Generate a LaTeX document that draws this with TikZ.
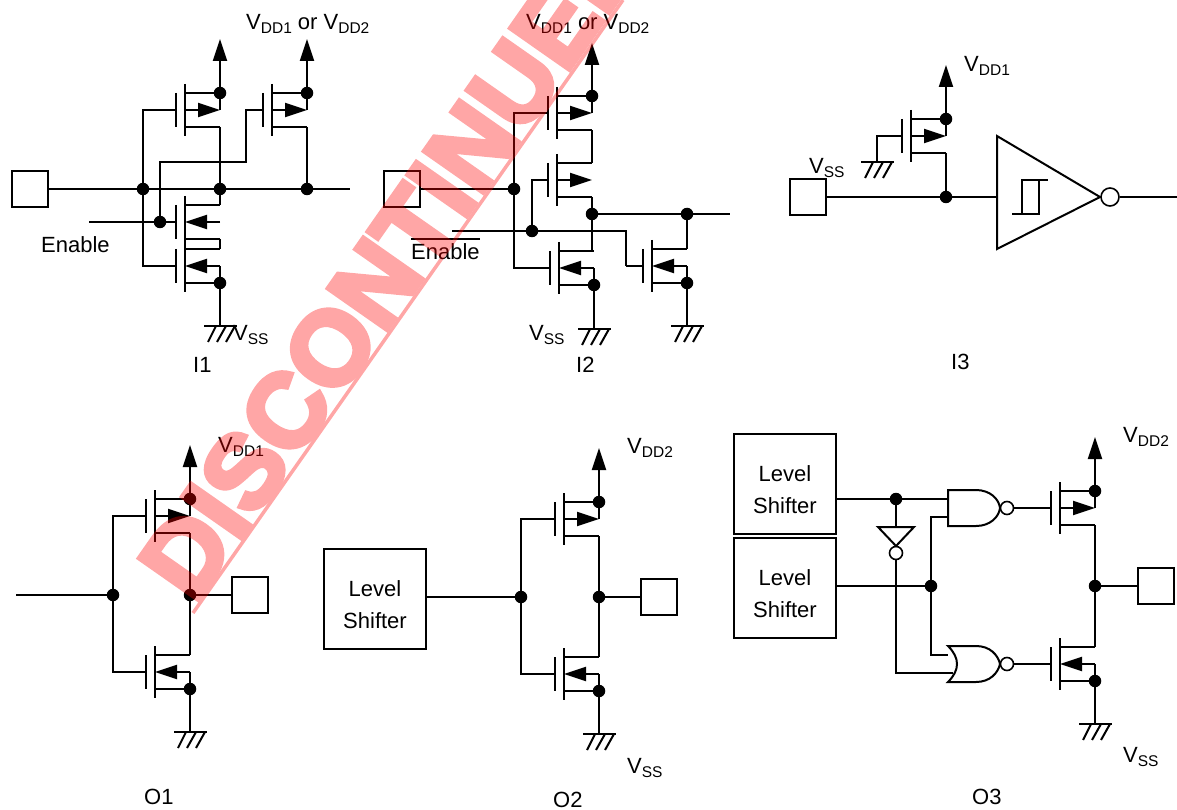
\documentclass[tikz,border=0pt]{standalone}
\usepackage{fontspec}
\setmainfont{Liberation Sans}
\newfontfamily\stampfont[BoldFeatures={FakeBold=5}]{Liberation Sans}
\usetikzlibrary{arrows.meta}

\newcommand{\vsub}[1]{V\raisebox{-4pt}{\fontsize{15.5}{15.5}\selectfont #1}}

\tikzset{
  wire/.style={line width=2pt},
  power/.style={-{Triangle[length=22pt,width=14pt]}},
  fettip/.style={-{Triangle[length=22pt,width=14pt]}},
  dot/.style={circle,fill=black,inner sep=0pt,minimum size=12.5pt},
  bubble/.style={circle,draw,line width=1.6pt,fill=white,inner sep=0pt,minimum size=13pt},
  pad/.style={draw,line width=2pt,inner sep=0pt,minimum size=36pt},
  shifter/.style={draw,line width=2pt,inner sep=0pt,minimum width=102pt,minimum height=100pt,
    align=center,text height=59pt,font=\fontsize{22}{32}\selectfont},
  lbl/.style={inner sep=0pt,anchor=base west,font=\fontsize{22}{26}\selectfont},
  fetbody/.pic={
    \draw[wire] (-9,-17) -- (-9,17);
    \draw[wire] (0,-26) -- (0,26);
    \draw[wire] (0,-17) -- (35,-17);
    \draw[wire] (0,17) -- (35,17);
  },
  pfet/.pic={
    \pic {fetbody};
    \draw[wire,fettip] (0,0) -- (35,0);
    \coordinate (-g) at (-9,0);
    \coordinate (-t) at (35,-17);
    \coordinate (-m) at (35,0);
    \coordinate (-b) at (35,17);
  },
  nfet/.pic={
    \pic {fetbody};
    \draw[wire,fettip] (35,0) -- (0,0);
    \coordinate (-g) at (-9,0);
    \coordinate (-t) at (35,-17);
    \coordinate (-m) at (35,0);
    \coordinate (-b) at (35,17);
  },
  gnd/.pic={
    \draw[wire] (-16,0) -- (17,0);
    \draw[wire] (-4,0) -- (-12,16);
    \draw[wire] (6,0) -- (-3,16);
    \draw[wire] (15,0) -- (6,16);
    \coordinate (-t) at (0,0);
  },
  nandgate/.pic={
    \draw[wire,fill=white] (0,-18) -- (28,-18) .. controls (42,-18) and (51,-9) .. (52,0)
      .. controls (51,9) and (42,18) .. (28,18) -- (0,18) -- cycle;
    \coordinate (-a) at (0,-9);
    \coordinate (-b) at (0,9);
  },
  orgate/.pic={
    \draw[wire,fill=white] (0,-18) -- (28,-18) .. controls (42,-18) and (50,-9) .. (52,0)
      .. controls (50,9) and (42,18) .. (28,18) -- (0,18) .. controls (12,6) and (12,-6) .. (0,-18) -- cycle;
    \coordinate (-a) at (0,-9);
    \coordinate (-b) at (5,9);
  }
}

\begin{document}
\begin{tikzpicture}[x=1pt,y=-1pt]
  \useasboundingbox (0,0) rectangle (1177,810);

  \pic (ma) at (185,110) {pfet};
  \pic (mb) at (272,110) {pfet};
  \pic (mc) at (185,222) {nfet};
  \pic (md) at (185,266) {nfet};
  \pic (ga) at (220,326) {gnd};
  \node[pad] (pa) at (30,189) {};
  \node[dot] (da) at (143,189) {};
  \node[dot] (db) at (220,189) {};
  \node[dot] (dc) at (307,189) {};
  \node[dot] (dd) at (160,222) {};
  \node[dot] (de) at (ma-t) {};
  \node[dot] (df) at (mb-t) {};
  \node[dot] (dg) at (md-b) {};
  \coordinate (oa) at (350,189);
  \coordinate (ea) at (89,222);
  \coordinate (ka) at (246,162);
  \coordinate (va) at (220,39);
  \coordinate (vb) at (307,39);
  \path (pa) edge[wire] (da);
  \path (da) edge[wire] (db);
  \path (db) edge[wire] (dc);
  \path (dc) edge[wire] (oa);
  \path (ea) edge[wire] (dd);
  \path (dd) edge[wire] (mc-g);
  \path (de) edge[wire,power] (va);
  \path (df) edge[wire,power] (vb);
  \path (de) edge[wire] (ma-m);
  \path (df) edge[wire] (mb-m);
  \path (ma-b) edge[wire] (db);
  \path (mb-b) edge[wire] (dc);
  \path (mc-t) edge[wire] (db);
  \path (mc-b) edge[wire] (md-t);
  \path (md-m) edge[wire] (dg);
  \path (dg) edge[wire] (ga-t);
  \draw[wire] (ma-g) -| (da);
  \draw[wire] (md-g) -| (da);
  \draw[wire] (dd) |- (ka) |- (mb-g);

  \pic (me) at (557,113) {pfet};
  \pic (mf) at (557,180) {pfet};
  \pic (mg) at (559,268) {nfet};
  \pic (mh) at (652,266) {nfet};
  \pic (gb) at (594,329) {gnd};
  \pic (gc) at (687,326) {gnd};
  \node[pad] (pb) at (402,189) {};
  \node[dot] (dh) at (514,189) {};
  \node[dot] (di) at (me-t) {};
  \node[dot] (dj) at (532,231) {};
  \node[dot] (dk) at (592,214) {};
  \node[dot] (dl) at (687,214) {};
  \node[dot] (dm) at (mg-b) {};
  \node[dot] (dn) at (mh-b) {};
  \coordinate (ob) at (730,214);
  \coordinate (eb) at (452,231);
  \coordinate (kb) at (626,266);
  \coordinate (vc) at (592,43);
  \path (pb) edge[wire] (dh);
  \path (di) edge[wire,power] (vc);
  \path (di) edge[wire] (me-m);
  \path (me-b) edge[wire] (mf-t);
  \path (mf-b) edge[wire] (dk);
  \path (dk) edge[wire] (dl);
  \path (dl) edge[wire] (ob);
  \path (dl) edge[wire] (mh-t);
  \path (eb) edge[wire] (dj);
  \path (kb) edge[wire] (mh-g);
  \path (mg-m) edge[wire] (dm);
  \path (mh-m) edge[wire] (dn);
  \path (dm) edge[wire] (gb-t);
  \path (dn) edge[wire] (gc-t);
  \draw[wire] (me-g) -| (dh);
  \draw[wire] (mg-g) -| (dh);
  \draw[wire] (mf-g) -| (dj);
  \draw[wire] (dj) -| (kb);
  \draw[wire] (dk) |- (mg-t);

  \pic (mi) at (911,136) {pfet};
  \pic (gd) at (877,162) {gnd};
  \node[pad] (pc) at (808,197) {};
  \node[dot] (do) at (946,197) {};
  \node[dot] (dp) at (mi-t) {};
  \node[bubble,minimum size=18pt] (ba) at (1110,197) {};
  \coordinate (ta) at (997,197);
  \coordinate (oc) at (1177,197);
  \coordinate (vd) at (946,65);
  \draw[wire] (997,136) -- (997,249) -- (1100,197) -- cycle;
  \draw[wire] (1012,214) -- (1039,214) -- (1039,180);
  \draw[wire] (1022,214) -- (1022,180) -- (1048,180);
  \path (pc) edge[wire] (do);
  \path (do) edge[wire] (ta);
  \path (ba) edge[wire] (oc);
  \path (dp) edge[wire,power] (vd);
  \path (dp) edge[wire] (mi-m);
  \path (mi-b) edge[wire] (do);
  \draw[wire] (mi-g) -| (gd-t);

  \pic (mj) at (155,516) {pfet};
  \pic (mk) at (155,672) {nfet};
  \pic (ge) at (190,732) {gnd};
  \node[pad] (pd) at (250,595) {};
  \node[dot] (dq) at (113,595) {};
  \node[dot] (dr) at (190,595) {};
  \node[dot] (ds) at (mj-t) {};
  \node[dot] (dt) at (mk-b) {};
  \coordinate (ia) at (16,595);
  \coordinate (ve) at (190,445);
  \path (ia) edge[wire] (dq);
  \path (dr) edge[wire] (pd);
  \path (ds) edge[wire,power] (ve);
  \path (ds) edge[wire] (mj-m);
  \path (mj-b) edge[wire] (dr);
  \path (mk-t) edge[wire] (dr);
  \path (mk-m) edge[wire] (dt);
  \path (dt) edge[wire] (ge-t);
  \draw[wire] (mj-g) -| (dq);
  \draw[wire] (mk-g) -| (dq);

  \pic (ml) at (564,519) {pfet};
  \pic (mm) at (564,674) {nfet};
  \pic (gf) at (599,734) {gnd};
  \node[shifter] (la) at (375,599) {Level\\Shifter};
  \node[pad] (pe) at (659,597) {};
  \node[dot] (du) at (521,597) {};
  \node[dot] (dv) at (599,597) {};
  \node[dot] (dw) at (ml-t) {};
  \node[dot] (dx) at (mm-b) {};
  \coordinate (vf) at (599,448);
  \path (du -| la.east) edge[wire] (du);
  \path (dv) edge[wire] (pe);
  \path (dw) edge[wire,power] (vf);
  \path (dw) edge[wire] (ml-m);
  \path (ml-b) edge[wire] (dv);
  \path (mm-t) edge[wire] (dv);
  \path (mm-m) edge[wire] (dx);
  \path (dx) edge[wire] (gf-t);
  \draw[wire] (ml-g) -| (du);
  \draw[wire] (mm-g) -| (du);

  \pic (mn) at (1060,508) {pfet};
  \pic (mo) at (1060,664) {nfet};
  \pic (gg) at (1095,724) {gnd};
  \pic (na) at (948,508) {nandgate};
  \pic (nb) at (948,664) {orgate};
  \node[shifter] (lb) at (785,484) {Level\\Shifter};
  \node[shifter] (lc) at (785,588) {Level\\Shifter};
  \node[pad] (pf) at (1156,586) {};
  \node[dot] (dy) at (896,499) {};
  \node[dot] (dz) at (931,586) {};
  \node[dot] (dpa) at (mn-t) {};
  \node[dot] (dpb) at (mo-b) {};
  \node[dot] (dpc) at (1095,586) {};
  \node[bubble] (bb) at (896,553) {};
  \node[bubble] (bc) at (1007,508) {};
  \node[bubble] (bd) at (1007,664) {};
  \coordinate (vg) at (1095,437);
  \coordinate (tb) at (896,527);
  \draw[wire] (878,527) -- (914,527) -- (896,546) -- cycle;
  \path (dy -| lb.east) edge[wire] (dy);
  \path (dy) edge[wire] (na-a);
  \path (dy) edge[wire] (tb);
  \path (dz -| lc.east) edge[wire] (dz);
  \path (bc) edge[wire] (mn-g);
  \path (bd) edge[wire] (mo-g);
  \path (dpc) edge[wire] (pf);
  \path (dpa) edge[wire,power] (vg);
  \path (dpa) edge[wire] (mn-m);
  \path (mn-b) edge[wire] (dpc);
  \path (mo-t) edge[wire] (dpc);
  \path (mo-m) edge[wire] (dpb);
  \path (dpb) edge[wire] (gg-t);
  \draw[wire] (dz) |- (na-b);
  \draw[wire] (dz) |- (nb-a);
  \draw[wire] (bb) |- (nb-b);

  \node[lbl] (ta1) at (246,30) {\vsub{DD1} or \vsub{DD2}};
  \node[lbl] (ta2) at (526,30) {\vsub{DD1} or \vsub{DD2}};
  \node[lbl] (ta3) at (964,72) {\vsub{DD1}};
  \node[lbl] (ta4) at (809,174) {\vsub{SS}};
  \node[lbl] (ta5) at (233,340) {\vsub{SS}};
  \node[lbl] (ta6) at (529,340) {\vsub{SS}};
  \node[lbl] (ta7) at (218,452) {\vsub{DD1}};
  \node[lbl] (ta8) at (627,453) {\vsub{DD2}};
  \node[lbl] (ta9) at (627,773) {\vsub{SS}};
  \node[lbl] (ta10) at (1123,442) {\vsub{DD2}};
  \node[lbl] (ta11) at (1123,762) {\vsub{SS}};
  \node[lbl] (ena) at (41,252) {Enable};
  \node[lbl] (enb) at (411,260) {Enable};
  \path ([yshift=4.5pt]enb.north west) edge[wire] ([yshift=4.5pt]enb.north east);
  \node[lbl] (ti1) at (193,372) {I1};
  \node[lbl] (ti2) at (576,372) {I2};
  \node[lbl] (ti3) at (951,369) {I3};
  \node[lbl] (to1) at (144,804) {O1};
  \node[lbl] (to2) at (553,807) {O2};
  \node[lbl] (to3) at (972,804) {O3};

  \begin{scope}[transparency group,opacity=.35]
    \node[inner sep=0pt,anchor=base west,rotate=55,text=red,
      font=\fontsize{104}{104}\stampfont\bfseries] (wm) at (194,605) {DISCONTINUED};
    \coordinate (wa) at (193,613);
    \coordinate (wb) at (623,0);
    \path (wa) edge[red,line width=3.5pt] (wb);
  \end{scope}
\end{tikzpicture}
\end{document}
